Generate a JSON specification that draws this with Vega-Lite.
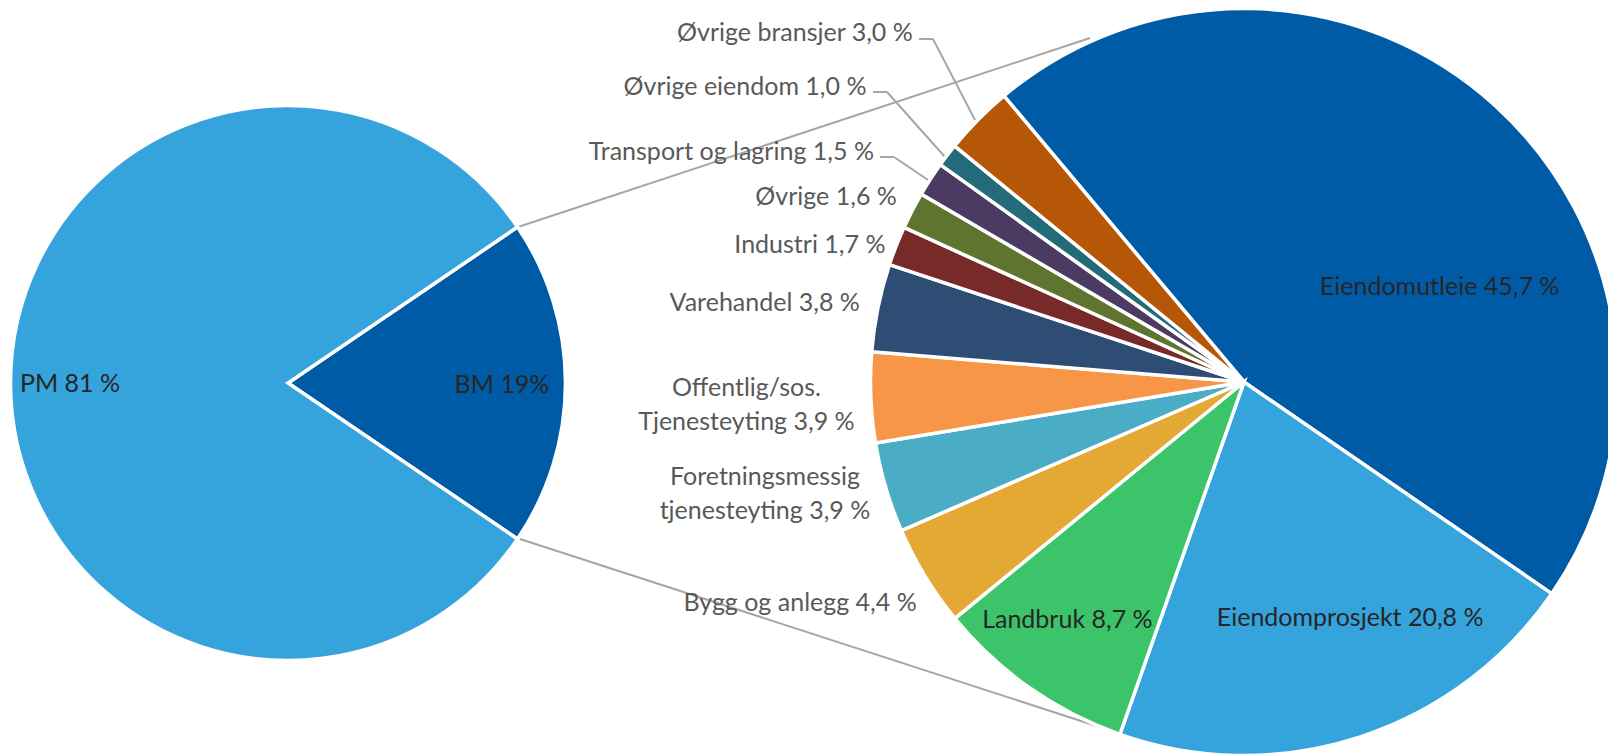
{
  "$schema": "https://vega.github.io/schema/vega-lite/v6.json",
  "width": 1608,
  "height": 755,
  "padding": 0,
  "autosize": {"type": "none"},
  "background": "white",
  "config": {"view": {"stroke": null}, "axis": {"disable": true}, "text": {"font": "Lato", "fontSize": 25}},
  "datasets": {
    "totalt": [
      {"nr": 1, "kategori": "BM", "andel": 19, "label": "BM 19%"},
      {"nr": 2, "kategori": "PM", "andel": 81, "label": "PM 81 %"}
    ],
    "bransjer": [
      {"nr": 1, "kategori": "Eiendomutleie", "andel": 45.7, "label": "Eiendomutleie 45,7 %"},
      {"nr": 2, "kategori": "Eiendomprosjekt", "andel": 20.8, "label": "Eiendomprosjekt 20,8 %"},
      {"nr": 3, "kategori": "Landbruk", "andel": 8.7, "label": "Landbruk 8,7 %"},
      {"nr": 4, "kategori": "Bygg og anlegg", "andel": 4.4, "label": "Bygg og anlegg 4,4 %"},
      {"nr": 5, "kategori": "Foretningsmessig tjenesteyting", "andel": 3.9, "label": "Foretningsmessig\ntjenesteyting 3,9 %"},
      {"nr": 6, "kategori": "Offentlig/sos. tjenesteyting", "andel": 3.9, "label": "Offentlig/sos.\nTjenesteyting 3,9 %"},
      {"nr": 7, "kategori": "Varehandel", "andel": 3.8, "label": "Varehandel 3,8 %"},
      {"nr": 8, "kategori": "Industri", "andel": 1.7, "label": "Industri 1,7 %"},
      {"nr": 9, "kategori": "Øvrige", "andel": 1.6, "label": "Øvrige 1,6 %"},
      {"nr": 10, "kategori": "Transport og lagring", "andel": 1.5, "label": "Transport og lagring 1,5 %"},
      {"nr": 11, "kategori": "Øvrige eiendom", "andel": 1.0, "label": "Øvrige eiendom 1,0 %"},
      {"nr": 12, "kategori": "Øvrige bransjer", "andel": 3.0, "label": "Øvrige bransjer 3,0 %"}
    ]
  },
  "layer": [
    {
      "data": {"values": [{}]},
      "mark": {"type": "rule", "color": "#a6a6a6", "strokeWidth": 2},
      "encoding": {
        "x": {"datum": 32.214, "type": "quantitative", "scale": {"domain": [0, 100], "nice": false, "zero": false}, "axis": null},
        "y": {"datum": 30.066, "type": "quantitative", "scale": {"domain": [0, 100], "nice": false, "zero": false, "reverse": true}, "axis": null},
        "x2": {"datum": 67.786},
        "y2": {"datum": 5.033}
      }
    },
    {
      "data": {"values": [{}]},
      "mark": {"type": "rule", "color": "#a6a6a6", "strokeWidth": 2},
      "encoding": {
        "x": {"datum": 32.338, "type": "quantitative", "axis": null},
        "y": {"datum": 71.391, "type": "quantitative", "axis": null},
        "x2": {"datum": 69.527},
        "y2": {"datum": 97.086}
      }
    },
    {
      "data": {"values": [{}]},
      "mark": {"type": "rule", "color": "#a6a6a6", "strokeWidth": 2},
      "encoding": {
        "x": {"datum": 57.152, "type": "quantitative", "axis": null},
        "y": {"datum": 5.166, "type": "quantitative", "axis": null},
        "x2": {"datum": 58.022},
        "y2": {"datum": 5.166}
      }
    },
    {
      "data": {"values": [{}]},
      "mark": {"type": "rule", "color": "#a6a6a6", "strokeWidth": 2},
      "encoding": {
        "x": {"datum": 58.022, "type": "quantitative", "axis": null},
        "y": {"datum": 5.166, "type": "quantitative", "axis": null},
        "x2": {"datum": 60.634},
        "y2": {"datum": 15.894}
      }
    },
    {
      "data": {"values": [{}]},
      "mark": {"type": "rule", "color": "#a6a6a6", "strokeWidth": 2},
      "encoding": {
        "x": {"datum": 54.291, "type": "quantitative", "axis": null},
        "y": {"datum": 12.185, "type": "quantitative", "axis": null},
        "x2": {"datum": 55.162},
        "y2": {"datum": 12.185}
      }
    },
    {
      "data": {"values": [{}]},
      "mark": {"type": "rule", "color": "#a6a6a6", "strokeWidth": 2},
      "encoding": {
        "x": {"datum": 55.162, "type": "quantitative", "axis": null},
        "y": {"datum": 12.185, "type": "quantitative", "axis": null},
        "x2": {"datum": 58.769},
        "y2": {"datum": 20.795}
      }
    },
    {
      "data": {"values": [{}]},
      "mark": {"type": "rule", "color": "#a6a6a6", "strokeWidth": 2},
      "encoding": {
        "x": {"datum": 54.726, "type": "quantitative", "axis": null},
        "y": {"datum": 20.795, "type": "quantitative", "axis": null},
        "x2": {"datum": 55.597},
        "y2": {"datum": 20.795}
      }
    },
    {
      "data": {"values": [{}]},
      "mark": {"type": "rule", "color": "#a6a6a6", "strokeWidth": 2},
      "encoding": {
        "x": {"datum": 55.597, "type": "quantitative", "axis": null},
        "y": {"datum": 20.795, "type": "quantitative", "axis": null},
        "x2": {"datum": 57.711},
        "y2": {"datum": 23.841}
      }
    },
    {
      "data": {"name": "totalt"},
      "encoding": {
        "theta": {"field": "andel", "type": "quantitative", "stack": true, "scale": {"domain": [0, 100], "range": [0.9739, 7.2571]}},
        "order": {"field": "nr", "type": "quantitative"},
        "x": {"datum": 17.91, "type": "quantitative", "axis": null},
        "y": {"datum": 50.728, "type": "quantitative", "axis": null}
      },
      "layer": [
        {
          "mark": {"type": "arc", "radius": 277.5, "stroke": "white", "strokeWidth": 3.5},
          "encoding": {
            "color": {"field": "kategori", "type": "nominal", "legend": null,
              "scale": {
                "domain": ["BM", "PM", "Eiendomutleie", "Eiendomprosjekt", "Landbruk", "Bygg og anlegg", "Foretningsmessig tjenesteyting", "Offentlig/sos. tjenesteyting", "Varehandel", "Industri", "Øvrige", "Transport og lagring", "Øvrige eiendom", "Øvrige bransjer"],
                "range": ["#005BA6", "#35A3DC", "#005BA6", "#35A3DC", "#3CC46B", "#E4A834", "#4BACC6", "#F79646", "#2D4D75", "#782A28", "#5F752F", "#4B3A62", "#246B7A", "#B65708"]
              }
            }
          }
        },
        {
          "mark": {"type": "text", "radius": 214, "dx": 0, "dy": 2, "align": "center", "baseline": "middle", "color": "#262626", "font": "Lato", "fontSize": 25},
          "encoding": {"text": {"condition": {"test": "datum.kategori === 'BM'", "field": "label", "type": "nominal"}, "value": ""}}
        },
        {
          "mark": {"type": "text", "radius": 218, "dx": 0, "dy": 1, "align": "center", "baseline": "middle", "color": "#262626", "font": "Lato", "fontSize": 25},
          "encoding": {"text": {"condition": {"test": "datum.kategori === 'PM'", "field": "label", "type": "nominal"}, "value": ""}}
        }
      ]
    },
    {
      "data": {"name": "bransjer"},
      "encoding": {
        "theta": {"field": "andel", "type": "quantitative", "stack": true, "scale": {"domain": [0, 100], "range": [-0.6981, 5.5851]}},
        "order": {"field": "nr", "type": "quantitative"},
        "x": {"datum": 77.363, "type": "quantitative", "axis": null},
        "y": {"datum": 50.596, "type": "quantitative", "axis": null}
      },
      "layer": [
        {
          "mark": {"type": "arc", "radius": 373.5, "stroke": "white", "strokeWidth": 3.5},
          "encoding": {"color": {"field": "kategori", "type": "nominal", "legend": null}}
        },
        {
          "mark": {"type": "text", "radius": 218, "dx": 49, "dy": 66, "align": "center", "baseline": "middle", "color": "#262626", "font": "Lato", "fontSize": 25},
          "encoding": {"text": {"condition": {"test": "datum.kategori === 'Eiendomutleie'", "field": "label", "type": "nominal"}, "value": ""}}
        },
        {
          "mark": {"type": "text", "radius": 259, "dx": 26, "dy": -10, "align": "center", "baseline": "middle", "color": "#262626", "font": "Lato", "fontSize": 25},
          "encoding": {"text": {"condition": {"test": "datum.kategori === 'Eiendomprosjekt'", "field": "label", "type": "nominal"}, "value": ""}}
        },
        {
          "mark": {"type": "text", "radius": 297, "dx": -6, "dy": -5, "align": "center", "baseline": "middle", "color": "#262626", "font": "Lato", "fontSize": 25},
          "encoding": {"text": {"condition": {"test": "datum.kategori === 'Landbruk'", "field": "label", "type": "nominal"}, "value": ""}}
        },
        {
          "mark": {"type": "text", "radius": 395, "dx": 10, "dy": 15, "align": "right", "baseline": "middle", "color": "#595959", "font": "Lato", "fontSize": 25},
          "encoding": {"text": {"condition": {"test": "datum.kategori === 'Bygg og anlegg'", "field": "label", "type": "nominal"}, "value": ""}}
        },
        {
          "mark": {"type": "text", "radius": 490, "dx": -9, "dy": -43, "align": "center", "baseline": "middle", "lineBreak": "\n", "lineHeight": 34, "color": "#595959", "font": "Lato", "fontSize": 25},
          "encoding": {"text": {"condition": {"test": "datum.kategori === 'Foretningsmessig tjenesteyting'", "field": "label", "type": "nominal"}, "value": ""}}
        },
        {
          "mark": {"type": "text", "radius": 496, "dx": -2, "dy": -15, "align": "center", "baseline": "middle", "lineBreak": "\n", "lineHeight": 34, "color": "#595959", "font": "Lato", "fontSize": 25},
          "encoding": {"text": {"condition": {"test": "datum.kategori === 'Offentlig/sos. tjenesteyting'", "field": "label", "type": "nominal"}, "value": ""}}
        },
        {
          "mark": {"type": "text", "radius": 392, "dx": 0, "dy": -1, "align": "right", "baseline": "middle", "color": "#595959", "font": "Lato", "fontSize": 25},
          "encoding": {"text": {"condition": {"test": "datum.kategori === 'Varehandel'", "field": "label", "type": "nominal"}, "value": ""}}
        },
        {
          "mark": {"type": "text", "radius": 384, "dx": -1, "dy": 3, "align": "right", "baseline": "middle", "color": "#595959", "font": "Lato", "fontSize": 25},
          "encoding": {"text": {"condition": {"test": "datum.kategori === 'Industri'", "field": "label", "type": "nominal"}, "value": ""}}
        },
        {
          "mark": {"type": "text", "radius": 393, "dx": 2, "dy": -5, "align": "right", "baseline": "middle", "color": "#595959", "font": "Lato", "fontSize": 25},
          "encoding": {"text": {"condition": {"test": "datum.kategori === 'Øvrige'", "field": "label", "type": "nominal"}, "value": ""}}
        },
        {
          "mark": {"type": "text", "radius": 436, "dx": -4, "dy": 7, "align": "right", "baseline": "middle", "color": "#595959", "font": "Lato", "fontSize": 25},
          "encoding": {"text": {"condition": {"test": "datum.kategori === 'Transport og lagring'", "field": "label", "type": "nominal"}, "value": ""}}
        },
        {
          "mark": {"type": "text", "radius": 479, "dx": 3, "dy": -4, "align": "right", "baseline": "middle", "color": "#595959", "font": "Lato", "fontSize": 25},
          "encoding": {"text": {"condition": {"test": "datum.kategori === 'Øvrige eiendom'", "field": "label", "type": "nominal"}, "value": ""}}
        },
        {
          "mark": {"type": "text", "radius": 482, "dx": 12, "dy": -11, "align": "right", "baseline": "middle", "color": "#595959", "font": "Lato", "fontSize": 25},
          "encoding": {"text": {"condition": {"test": "datum.kategori === 'Øvrige bransjer'", "field": "label", "type": "nominal"}, "value": ""}}
        }
      ]
    }
  ],
  "resolve": {"scale": {"theta": "independent"}}
}
